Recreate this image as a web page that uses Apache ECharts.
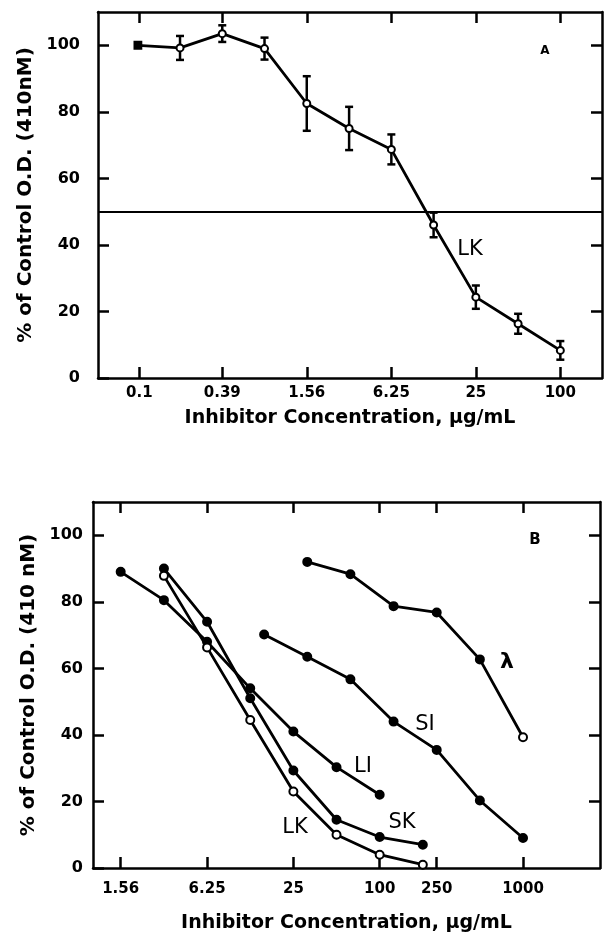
<!DOCTYPE html>
<html>
<head>
<meta charset="utf-8">
<script src="https://cdn.jsdelivr.net/npm/echarts@6/dist/echarts.min.js"></script>
<style>
  html, body { margin: 0; padding: 0; background: #fff; }
  #chart { width: 608px; height: 939px; }
</style>
</head>
<body>
<div id="chart"></div>
<script>
'use strict';

// panel A : LK, mean +/- error
var topConc = [0.0977, 0.195, 0.39, 0.78, 1.56, 3.125, 6.25, 12.5, 25, 50, 100];
var topMean = [100, 99.2, 103.5, 99, 82.5, 75, 68.7, 46, 24.3, 16.3, 8.3];
var topErr = [0, 3.6, 2.5, 3.3, 8.2, 6.5, 4.5, 3.7, 3.5, 3, 2.8];
var topTickLabels = ['0.1', '0.39', '1.56', '6.25', '25', '100'];

// panel B : five inhibitors
var liConc = [1.56, 3.125, 6.25, 12.5, 25, 50, 100];
var liVals = [89, 80.5, 68, 54, 41, 30.3, 22];
var skConc = [3.125, 6.25, 12.5, 25, 50, 100, 200];
var skVals = [90, 74, 51, 29.3, 14.5, 9.3, 7];
var lkConc = [3.125, 6.25, 12.5, 25, 50, 100, 200];
var lkVals = [87.8, 66.3, 44.5, 23, 10, 4, 1];
var siConc = [15.625, 31.25, 62.5, 125, 250, 500, 1000];
var siVals = [70.2, 63.5, 56.7, 44, 35.5, 20.3, 9];
var lamConc = [31.25, 62.5, 125, 250, 500, 1000];
var lamVals = [92, 88.3, 78.7, 76.8, 62.7, 39.3];
var botTickLabels = ['1.56', '6.25', '25', '100', '250', '1000'];

var yTicks = [0, 20, 40, 60, 80, 100];
var yTicksRight = [20, 40, 60, 80, 100];

var FONT = 'DejaVu Sans';

function pairs(conc, vals) {
  return conc.map(function (c, i) { return [Math.log2(c), vals[i]]; });
}
function labelFor(list) {
  return function (v) {
    for (var i = 0; i < list.length; i++) {
      if (Math.abs(Math.log2(parseFloat(list[i])) - v) < 1e-6) return list[i];
    }
    return '';
  };
}

var tickStyle = { show: true, inside: true, length: 11, lineStyle: { color: '#000', width: 2.5 } };
var lineAx = { show: true, onZero: false, lineStyle: { color: '#000', width: 2.5 } };

function xAxes(grid, min, max, labels, gap) {
  var vals = labels.map(function (l) { return Math.log2(parseFloat(l)); });
  return [{
    type: 'value', gridIndex: grid, min: min, max: max, position: 'bottom',
    axisLine: lineAx, splitLine: { show: false },
    axisTick: Object.assign({ customValues: vals }, tickStyle),
    axisLabel: {
      customValues: vals, formatter: labelFor(labels), margin: grid === 0 ? 8 : 14,
      color: '#000', fontFamily: FONT, fontWeight: 'bold', fontSize: 15
    },
    name: 'Inhibitor Concentration, \u00b5g/mL', nameLocation: 'middle', nameGap: gap,
    nameTextStyle: { color: '#000', fontFamily: FONT, fontWeight: 'bold', fontSize: 19 }
  }, {
    type: 'value', gridIndex: grid, min: min, max: max, position: 'top',
    axisLine: lineAx, splitLine: { show: false },
    axisTick: Object.assign({ customValues: vals }, tickStyle),
    axisLabel: { show: false }
  }];
}

function yAxes(grid, name, gap, margin) {
  return [{
    type: 'value', gridIndex: grid, min: 0, max: 110, position: 'left',
    axisLine: lineAx, splitLine: { show: false },
    axisTick: Object.assign({ customValues: yTicks }, tickStyle),
    axisLabel: {
      customValues: yTicks, margin: margin,
      color: '#000', fontFamily: FONT, fontWeight: 'bold', fontSize: 16
    },
    name: name, nameLocation: 'middle', nameGap: gap, nameRotate: 90,
    nameTextStyle: { color: '#000', fontFamily: FONT, fontWeight: 'bold', fontSize: 20 }
  }, {
    type: 'value', gridIndex: grid, min: 0, max: 110, position: 'right',
    axisLine: lineAx, splitLine: { show: false },
    axisTick: Object.assign({ customValues: yTicksRight }, tickStyle),
    axisLabel: { show: false }
  }];
}

function curve(name, conc, vals, openLast, allOpen) {
  var n = conc.length;
  return {
    name: name, type: 'line', xAxisIndex: 2, yAxisIndex: 2,
    data: pairs(conc, vals),
    symbol: function (v, p) {
      return (allOpen || (openLast && p.dataIndex === n - 1)) ? 'emptyCircle' : 'circle';
    },
    symbolSize: 8,
    itemStyle: { color: '#000', borderColor: '#000', borderWidth: 2 },
    lineStyle: { color: '#000', width: 2.8 },
    z: 3
  };
}

var errData = [];
topConc.forEach(function (c, i) {
  if (topErr[i] > 0) errData.push([Math.log2(c), topMean[i] - topErr[i], topMean[i] + topErr[i]]);
});

var chart = echarts.init(document.getElementById('chart'));
var option = {
  animation: false,
  backgroundColor: '#fff',
  grid: [
    { left: 98, top: 12, width: 504, height: 366 },
    { left: 93, top: 502, width: 507, height: 366 }
  ],
  xAxis: xAxes(0, -4.30, 7.63, topTickLabels, 31).concat(xAxes(1, 0, 11.75, botTickLabels, 46)),
  yAxis: yAxes(0, '% of Control O.D. (410nM)', 52, 18).concat(yAxes(1, '% of Control O.D. (410 nM)', 48, 10)),
  series: [
    {
      name: 'LK', type: 'line', xAxisIndex: 0, yAxisIndex: 0,
      data: pairs(topConc, topMean),
      symbol: function (v, p) { return p.dataIndex === 0 ? 'rect' : 'emptyCircle'; },
      symbolSize: 7,
      itemStyle: { color: '#000', borderColor: '#000', borderWidth: 1.8 },
      lineStyle: { color: '#000', width: 2.8 },
      markLine: {
        silent: true, symbol: 'none', label: { show: false },
        lineStyle: { color: '#000', width: 2.2, type: 'solid' },
        data: [{ yAxis: 50 }]
      },
      z: 3
    },
    {
      name: 'err', type: 'custom', xAxisIndex: 0, yAxisIndex: 0,
      data: errData,
      renderItem: function (params, api) {
        var hi = api.coord([api.value(0), api.value(2)]);
        var lo = api.coord([api.value(0), api.value(1)]);
        var w = 4;
        var st = { stroke: '#000', lineWidth: 2.5 };
        return {
          type: 'group', children: [
            { type: 'line', shape: { x1: hi[0], y1: hi[1], x2: lo[0], y2: lo[1] }, style: st },
            { type: 'line', shape: { x1: hi[0] - w, y1: hi[1], x2: hi[0] + w, y2: hi[1] }, style: st },
            { type: 'line', shape: { x1: lo[0] - w, y1: lo[1], x2: lo[0] + w, y2: lo[1] }, style: st }
          ]
        };
      },
      z: 2
    },
    curve('LI', liConc, liVals, false, false),
    curve('SK', skConc, skVals, false, false),
    curve('LK2', lkConc, lkVals, false, true),
    curve('SI', siConc, siVals, false, false),
    curve('lambda', lamConc, lamVals, true, false)
  ],
  graphic: [
    { type: 'text', x: 545, y: 51, style: { text: 'A', fill: '#000', font: 'bold 12px ' + FONT, textAlign: 'center', textVerticalAlign: 'middle' } },
    { type: 'text', x: 470, y: 250, style: { text: 'LK', fill: '#000', font: '21px ' + FONT, textAlign: 'center', textVerticalAlign: 'middle' } },
    { type: 'text', x: 535, y: 540, style: { text: 'B', fill: '#000', font: '900 15px ' + FONT, textAlign: 'center', textVerticalAlign: 'middle' } },
    { type: 'text', x: 507, y: 662, style: { text: '\u03bb', fill: '#000', font: 'bold 22px ' + FONT, textAlign: 'center', textVerticalAlign: 'middle' } },
    { type: 'text', x: 425, y: 725, style: { text: 'SI', fill: '#000', font: '21px ' + FONT, textAlign: 'center', textVerticalAlign: 'middle' } },
    { type: 'text', x: 363, y: 767, style: { text: 'LI', fill: '#000', font: '21px ' + FONT, textAlign: 'center', textVerticalAlign: 'middle' } },
    { type: 'text', x: 402, y: 823, style: { text: 'SK', fill: '#000', font: '21px ' + FONT, textAlign: 'center', textVerticalAlign: 'middle' } },
    { type: 'text', x: 295, y: 828, style: { text: 'LK', fill: '#000', font: '21px ' + FONT, textAlign: 'center', textVerticalAlign: 'middle' } }
  ]
};
chart.setOption(option);
</script>
</body>
</html>
